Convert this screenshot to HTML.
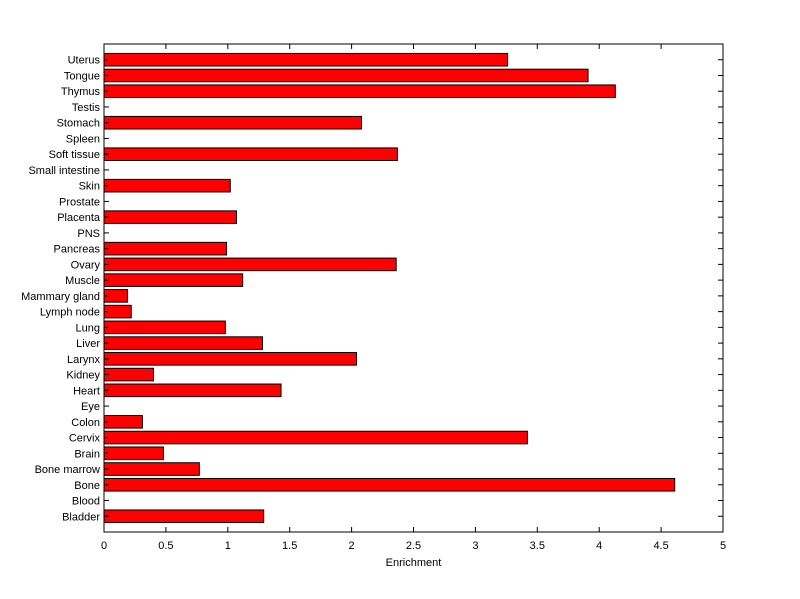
<!DOCTYPE html>
<html><head><meta charset="utf-8"><style>
body{margin:0;background:#fff;}
svg{display:block;font-family:"Liberation Sans",Arial,sans-serif;}
</style></head><body>
<svg id="chart" width="800" height="599"></svg>
<script>
const categories=["Uterus","Tongue","Thymus","Testis","Stomach","Spleen","Soft tissue","Small intestine","Skin","Prostate","Placenta","PNS","Pancreas","Ovary","Muscle","Mammary gland","Lymph node","Lung","Liver","Larynx","Kidney","Heart","Eye","Colon","Cervix","Brain","Bone marrow","Bone","Blood","Bladder"];
const values=[3.26,3.91,4.13,0,2.08,0,2.37,0,1.02,0,1.07,0,0.99,2.36,1.12,0.19,0.22,0.98,1.28,2.04,0.40,1.43,0,0.31,3.42,0.48,0.77,4.61,0,1.29];
const xTicks=[0,0.5,1,1.5,2,2.5,3,3.5,4,4.5,5];
const xTickLabels=["0","0.5","1","1.5","2","2.5","3","3.5","4","4.5","5"];
const NS="http://www.w3.org/2000/svg";
const svg=document.getElementById('chart');
const L=104,R=723,T=44,B=532,n=categories.length;
const xs=v=>L+(R-L)*v/5;
const step=(B-T)/(n+1);
const ys=i=>T+step*(i+1);
function mk(tag,attrs,parent){const e=document.createElementNS(NS,tag);for(const k in attrs)e.setAttribute(k,attrs[k]);(parent||svg).appendChild(e);return e;}
const bg=mk('rect',{x:L,y:T,width:R-L,height:B-T,fill:'#fff'});


categories.forEach((c,i)=>{
  const y=ys(i);
  const r=mk('rect',{x:xs(0),y:y-step*0.4,width:Math.max(0,xs(values[i])-xs(0)),height:step*0.8,fill:'#ff0000',stroke:'#000','stroke-width':1});
  
  
  const t=mk('text',{x:L-4,y:y+4,'text-anchor':'end','font-size':11,fill:'#000'});
  t.textContent=c;
  
  
  mk('line',{x1:L,x2:L+5,y1:y,y2:y,stroke:'#000'});
  mk('line',{x1:R-5,x2:R,y1:y,y2:y,stroke:'#000'});
});
xTicks.forEach((v,i)=>{
  const x=xs(v);
  mk('line',{x1:x,x2:x,y1:B,y2:B-5,stroke:'#000'});
  mk('line',{x1:x,x2:x,y1:T,y2:T+5,stroke:'#000'});
  const t=mk('text',{x:x,y:B+17,'text-anchor':'middle','font-size':11,fill:'#000'});
  t.textContent=xTickLabels[i];
  
  
});
const fr=mk('rect',{x:L,y:T,width:R-L,height:B-T,fill:'none',stroke:'#000'});


const xt=mk('text',{x:(L+R)/2,y:B+34,'text-anchor':'middle','font-size':11,fill:'#000'});
xt.textContent='Enrichment';


</script>
</body></html>
